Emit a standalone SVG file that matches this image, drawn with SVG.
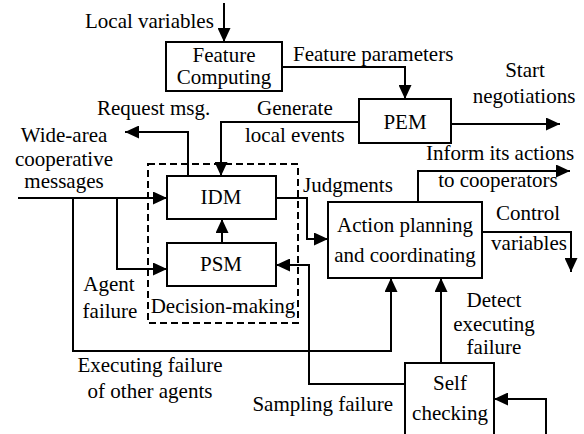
<svg xmlns="http://www.w3.org/2000/svg" width="584" height="434" viewBox="0 0 584 434" font-family="'Liberation Serif', 'Times New Roman', 'DejaVu Serif', serif" font-size="21">
<defs>
<marker id="ah" markerUnits="userSpaceOnUse" markerWidth="15" markerHeight="13" refX="14" refY="6.5" orient="auto">
<path d="M0,0 L14,6.5 L0,13 z" fill="#000"/>
</marker>
<style>
text{font-family:'Liberation Serif','Times New Roman','DejaVu Serif',serif;font-size:21px;fill:#000}
.m{text-anchor:middle}
.e{text-anchor:end}
.box{fill:#fff;stroke:#000;stroke-width:2}
.c{fill:none;stroke:#000;stroke-width:2}
.a{marker-end:url(#ah)}
.dash{fill:none;stroke:#000;stroke-width:2;stroke-dasharray:7,4}
</style>
</defs>
<rect width="584" height="434" fill="#fff"/>
<g id="connectors">
<path class="c a" d="M224,3 V42"/>
<path class="c a" d="M282,67 H405 V99"/>
<path class="c a" d="M451,124 H560"/>
<path class="c a" d="M359,122 H221 V176"/>
<path class="c a" d="M188,176 V132 H125"/>
<path class="c a" d="M18,198 H167"/>
<path class="c a" d="M73,198 V351 H391 V278"/>
<path class="c a" d="M117,198 V269 H167"/>
<path class="c a" d="M222,243 V219"/>
<path class="c a" d="M276,198 H307 V239 H328"/>
<path class="c a" d="M418,202 V171 H570"/>
<path class="c a" d="M482,232 H571 V272"/>
<path class="c a" d="M441,363 V278"/>
<path class="c a" d="M405,384 H309 V265 H276"/>
<path class="c a" d="M546,436 V399 H494"/>
</g>
<g id="decision-making">
<rect class="dash" x="148" y="164" width="150" height="159"/>
<text x="223" y="313" class="m">Decision-making</text>
</g>
<g id="feature-computing">
<rect class="box" x="166" y="42" width="116" height="49"/>
<text x="224" y="62" class="m">Feature</text>
<text x="224" y="84" class="m">Computing</text>
</g>
<g id="pem">
<rect class="box" x="359" y="99" width="92" height="44"/>
<text x="405" y="129" class="m">PEM</text>
</g>
<g id="idm">
<rect class="box" x="167" y="176" width="109" height="43"/>
<text x="221" y="204" class="m">IDM</text>
</g>
<g id="psm">
<rect class="box" x="167" y="243" width="109" height="43"/>
<text x="221" y="271" class="m">PSM</text>
</g>
<g id="action">
<rect class="box" x="328" y="202" width="154" height="76"/>
<text x="405" y="232" class="m">Action planning</text>
<text x="405" y="262" class="m">and coordinating</text>
</g>
<g id="self-checking">
<path class="box" d="M405,436 V363 H494 V436"/>
<text x="450" y="390" class="m">Self</text>
<text x="450" y="420" class="m">checking</text>
</g>
<g id="labels">
<text x="85" y="28">Local variables</text>
<text x="293" y="61">Feature parameters</text>
<text x="525" y="77" class="m">Start</text>
<text x="524" y="103" class="m">negotiations</text>
<text x="257" y="115">Generate</text>
<text x="245" y="142">local events</text>
<text x="97" y="115">Request msg.</text>
<text x="64" y="142" class="m">Wide-area</text>
<text x="64" y="166" class="m">cooperative</text>
<text x="64" y="188" class="m">messages</text>
<text x="303" y="192">Judgments</text>
<text x="500" y="160" class="m">Inform its actions</text>
<text x="498" y="187" class="m">to cooperators</text>
<text x="528" y="220" class="m">Control</text>
<text x="529" y="250" class="m">variables</text>
<text x="109" y="291" class="m">Agent</text>
<text x="110" y="318" class="m">failure</text>
<text x="150" y="372" class="m">Executing failure</text>
<text x="150" y="398" class="m">of other agents</text>
<text x="494" y="307" class="m">Detect</text>
<text x="494" y="331" class="m">executing</text>
<text x="494" y="354" class="m">failure</text>
<text x="393" y="411" class="e">Sampling failure</text>
</g>
</svg>
